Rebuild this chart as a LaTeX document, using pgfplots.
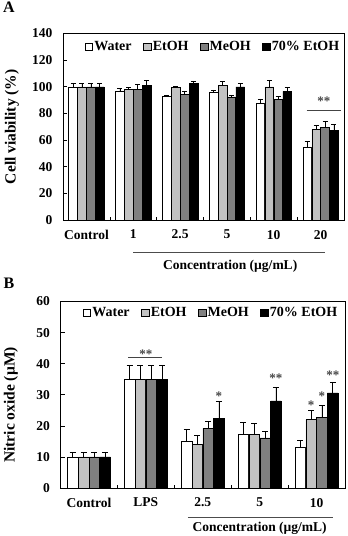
\documentclass[border=0pt]{standalone}
\usepackage{pgfplots}
\pgfplotsset{compat=1.18}
\usepackage{fontspec}
\setmainfont{Liberation Serif}

\definecolor{lgray}{HTML}{C2C2C2}
\definecolor{dgray}{HTML}{808080}
\definecolor{stargray}{HTML}{444444}

\newcommand{\tickfont}{\bfseries\fontsize{13.5}{15}\selectfont}
\newcommand{\labfont}{\bfseries\fontsize{15.5}{17}\selectfont}
\newcommand{\starfont}{\bfseries\fontsize{13}{14}\selectfont}
\newcommand{\concfont}{\bfseries\fontsize{13.5}{15}\selectfont}

\pgfplotsset{
  panel/.style={
    scale only axis,
    height=186.5pt,
    ymin=0,
    xmin=-0.5,
    clip=false,
    ybar=0pt,
    bar width=0.185,
    tick align=inside,
    ytick pos=left,
    xtick pos=bottom,
    major tick length=4pt,
    minor tick length=3pt,
    minor x tick num=1,
    major x tick style={draw=none},
    every tick/.style={black, line width=0.6pt},
    axis line style={line width=0.8pt},
    /pgf/number format/assume math mode=true,
    tick label style={font=\tickfont},
    xticklabel style={yshift=-6.5pt},
    yticklabel style={xshift=-7pt},
    ylabel style={font=\labfont, rotate=0},
    legend columns=4,
    legend cell align=left,
    legend style={draw=none, fill=none, anchor=west,
      font=\bfseries\fontsize{14}{16}\selectfont,
      nodes={inner xsep=1.5pt, inner ysep=1pt},
      /tikz/every even column/.append style={column sep=10pt}},
    legend image code/.code={%
      \draw[#1, draw=black, line width=0.5pt] (0pt,-3.8pt) rectangle (7.6pt,3.8pt);},
  },
  err/.style={
    error bars/.cd,
      y dir=plus, y explicit,
      error bar style={line width=0.6pt, black},
      error mark options={rotate=90, mark size=#1, line width=0.6pt, black},
  },
  s1/.style={fill=white, draw=black, line width=0.5pt, bar shift=-0.285},
  s2/.style={fill=lgray, draw=black, line width=0.5pt, bar shift=-0.095},
  s3/.style={fill=dgray, draw=black, line width=0.5pt, bar shift=0.095},
  s4/.style={fill=black, draw=black, line width=0.5pt, bar shift=0.285},
}

\begin{document}
\begin{tikzpicture}
\useasboundingbox (0pt,0pt) rectangle (348pt,-536pt);

\node[font=\bfseries\fontsize{16}{17}\selectfont] at (9pt,-7.5pt) {A};
\node[font=\bfseries\fontsize{16}{17}\selectfont] at (9pt,-283.5pt) {B};

% ---------- Cell viability ----------
\begin{axis}[panel,
  at={(63pt,-220pt)}, anchor=south west,
  width=281pt,
  xmax=5.5, ymax=140,
  ytick={0,20,...,140},
  xtick={0,...,5},
  xticklabels={Control,1,2.5,5,10,20},
  ylabel={Cell viability (\%)},
  ylabel style={at={(axis description cs:-0.182,0.5)}, anchor=center},
  legend style={at={(0.066,0.928)}},
]
\addplot[s1, err=2.5pt] coordinates {
  (0,100) +- (0,2.5) (1,96.4) +- (0,2.4) (2,92.6) +- (0,1.2)
  (3,95.8) +- (0,1.8) (4,87.8) +- (0,3.1) (5,54.3) +- (0,5.0)};
\addplot[s2, err=2.5pt] coordinates {
  (0,100) +- (0,2.5) (1,98.3) +- (0,1.0) (2,99.8) +- (0,0.7)
  (3,101.3) +- (0,3.0) (4,100.0) +- (0,4.6) (5,68.1) +- (0,3.2)};
\addplot[s3, err=2.5pt] coordinates {
  (0,100) +- (0,2.5) (1,98.2) +- (0,3.5) (2,94.5) +- (0,2.4)
  (3,92.5) +- (0,1.2) (4,90.6) +- (0,1.9) (5,69.8) +- (0,4.2)};
\addplot[s4, err=2.5pt] coordinates {
  (0,100) +- (0,2.5) (1,101.2) +- (0,3.3) (2,102.6) +- (0,1.8)
  (3,100.0) +- (0,2.8) (4,96.6) +- (0,2.9) (5,67.1) +- (0,4.4)};
\legend{Water,EtOH,MeOH,70\% EtOH}

% significance
\draw[stargray, line width=0.6pt] (axis cs:4.70,82.6) -- (axis cs:5.44,82.6);
\node[stargray, font=\starfont, anchor=base] at (axis cs:5.07,86.0) {**};

% concentration bracket
\draw[black!70, line width=0.6pt] (axis cs:0.995,-24) -- (axis cs:5.095,-24);
\node[font=\concfont] at (axis cs:3.07,-35) {Concentration (µg/mL)};
\end{axis}

% ---------- Nitric oxide ----------
\begin{axis}[panel,
  at={(60.5pt,-488pt)}, anchor=south west,
  width=284.5pt,
  xmax=4.5, ymax=60,
  ytick={0,10,...,60},
  xtick={0,...,4},
  xticklabels={Control,LPS,2.5,5,10},
  ylabel={Nitric oxide (µM)},
  ylabel style={at={(axis description cs:-0.174,0.445)}, anchor=center},
  legend style={at={(0.067,0.94)}},
]
\addplot[s1, err=3pt] coordinates {
  (0,10) +- (0,1.4) (1,35) +- (0,4.5) (2,15.0) +- (0,3.8)
  (3,17.3) +- (0,3.7) (4,13.2) +- (0,2.1)};
\addplot[s2, err=3pt] coordinates {
  (0,10) +- (0,1.4) (1,35) +- (0,4.5) (2,14.0) +- (0,2.8)
  (3,17.2) +- (0,3.6) (4,22.0) +- (0,3.0)};
\addplot[s3, err=3pt] coordinates {
  (0,10) +- (0,1.4) (1,35) +- (0,4.5) (2,19.2) +- (0,2.2)
  (3,16.1) +- (0,2.1) (4,22.7) +- (0,3.9)};
\addplot[s4, err=3pt] coordinates {
  (0,10) +- (0,1.4) (1,35) +- (0,4.5) (2,22.3) +- (0,5.7)
  (3,28.0) +- (0,4.3) (4,30.6) +- (0,3.3)};
\legend{Water,EtOH,MeOH,70\% EtOH}

% significance
\draw[stargray, line width=0.6pt] (axis cs:0.69,42) -- (axis cs:1.29,42);
\node[stargray, font=\starfont, anchor=base] at (axis cs:1.0,41.6) {**};
\node[stargray, font=\starfont, anchor=base] at (axis cs:2.285,28.3) {*};
\node[stargray, font=\starfont, anchor=base] at (axis cs:3.285,33.9) {**};
\node[stargray, font=\starfont, anchor=base] at (axis cs:3.905,25.4) {*};
\node[stargray, font=\starfont, anchor=base] at (axis cs:4.095,28.1) {*};
\node[stargray, font=\starfont, anchor=base] at (axis cs:4.285,35.0) {**};

% concentration bracket
\draw[black!70, line width=0.6pt] (axis cs:1.74,-9.3) -- (axis cs:4.29,-9.3);
\node[font=\concfont, anchor=base] at (axis cs:3.0,-13.9) {Concentration (µg/mL)};
\end{axis}
\end{tikzpicture}
\end{document}
